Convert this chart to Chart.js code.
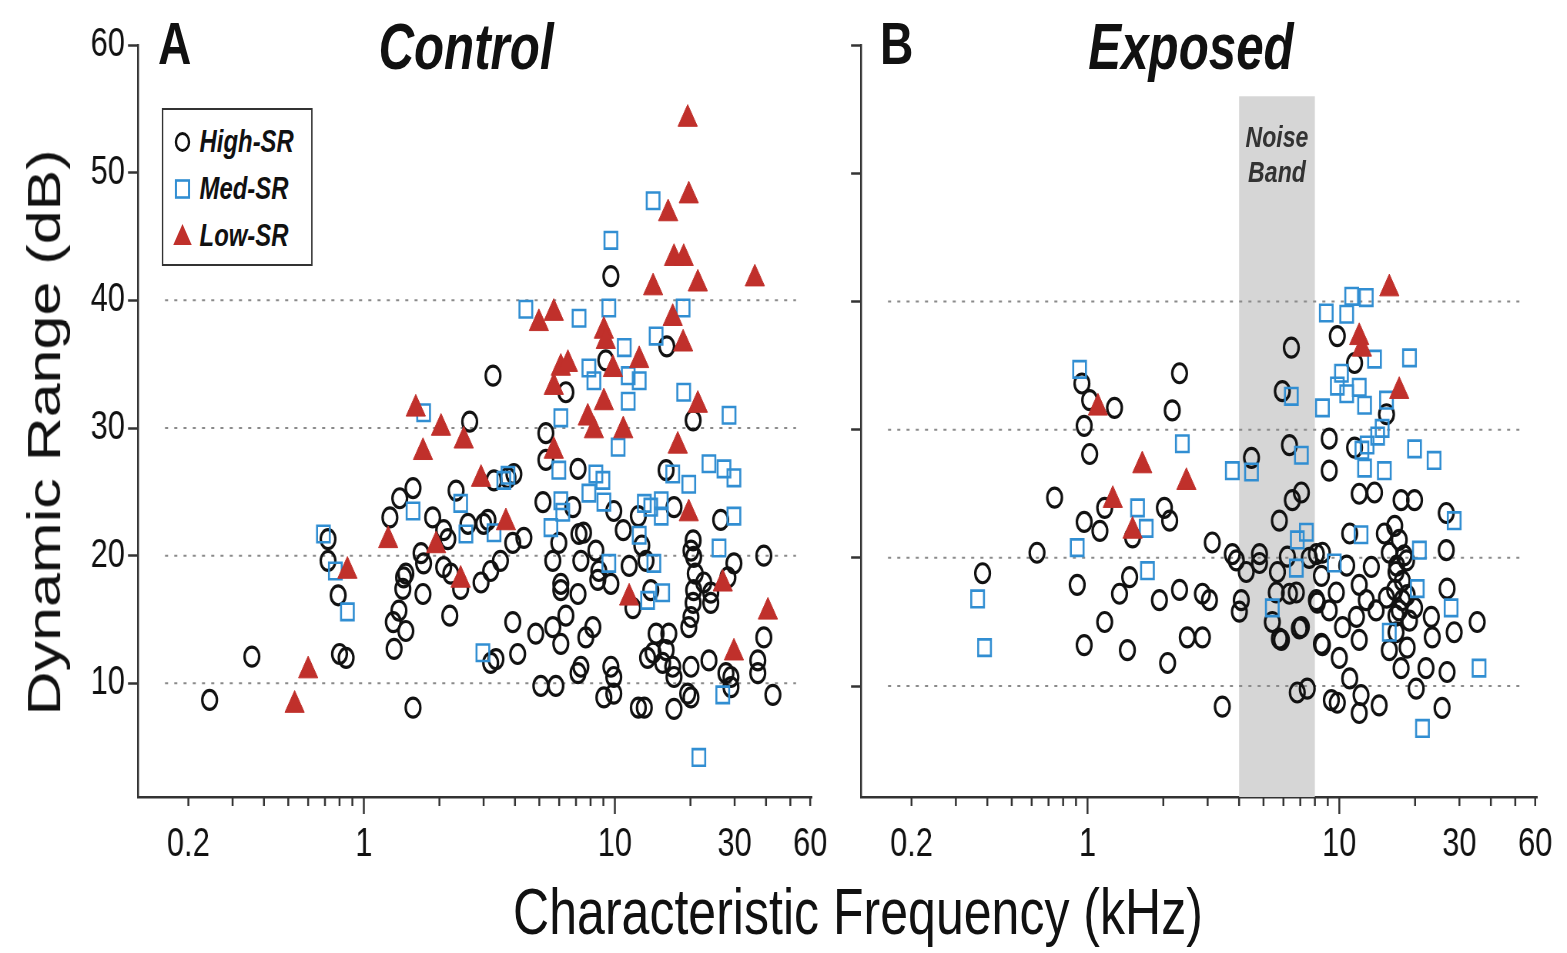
<!DOCTYPE html>
<html>
<head>
<meta charset="utf-8">
<script src="https://cdn.jsdelivr.net/npm/chart.js@4.4.1/dist/chart.umd.min.js"></script>
<style>
    html, body { margin: 0; padding: 0; background: #fff; overflow: hidden; }
    #stage { position: absolute; left: 0; top: 0; height: 953px; transform: scaleX(0.77); transform-origin: 0 0; }
    #stage canvas { position: absolute; top: 0; }
    .txt { position: absolute; white-space: nowrap; font-family: "Liberation Sans", Arial, sans-serif; color: #111; line-height: 1; }
    .bi { font-weight: bold; font-style: italic; }
    .legend { position: absolute; box-sizing: border-box; border: 2.5px solid #333; background: #fff; }
</style>
</head>
<body>
<div id="stage">
    <canvas id="chartA"></canvas>
    <canvas id="chartB"></canvas>
    <div class="txt" id="letterA" style="font-size:60px;font-weight:bold;top:14px;">A</div>
    <div class="txt bi" id="titleA" style="font-size:64px;top:15px;width:600px;text-align:center;">Control</div>
    <div class="txt" id="letterB" style="font-size:60px;font-weight:bold;top:14px;">B</div>
    <div class="txt bi" id="titleB" style="font-size:64px;top:15px;width:600px;text-align:center;">Exposed</div>
    <div class="legend" id="legend"></div>
    <div class="txt bi" id="bandLabel" style="font-size:30px;line-height:35px;top:119px;width:200px;text-align:center;color:#333;">Noise<br>Band</div>
    <div class="txt" id="yTitle" style="font-size:61px;width:800px;text-align:center;transform:rotate(-90deg);">Dynamic Range (dB)</div>
    <div class="txt" id="xTitle" style="font-size:65px;top:879px;width:1400px;text-align:center;">Characteristic Frequency (kHz)</div>
</div>
<script>
// the reference figure is squeezed horizontally; lay out in unsqueezed units
const S = 0.77;
const u = px => px / S;

// ---- data: [characteristic frequency (kHz), dynamic range (dB)] ----
const controlHighSR = [
    [0.243, 8.7], [0.358, 12.1], [0.72, 21.3], [0.72, 19.6], [0.79, 16.9], [0.80, 12.3], [0.85, 12.0],
    [2.64, 30.5], [1.57, 25.3], [1.39, 24.5], [1.27, 23.0], [2.33, 25.1], [1.88, 23.0], [2.08, 22.0],
    [2.16, 21.3], [1.69, 20.2], [1.73, 19.4], [2.08, 19.1], [2.22, 18.6], [2.43, 17.4], [2.93, 17.9],
    [3.0, 22.5], [1.47, 18.6], [1.43, 17.4], [1.72, 17.0], [1.38, 15.7], [1.31, 14.8], [1.47, 14.1],
    [1.32, 12.7], [2.2, 15.3], [1.57, 8.1], [3.2, 11.6], [3.27, 34.1], [3.75, 26.1], [3.96, 26.4],
    [2.6, 22.5], [3.12, 22.8], [3.92, 21.0], [3.5, 19.6], [3.2, 18.8], [3.92, 14.8], [3.36, 11.9],
    [4.1, 12.3], [1.44, 18.3], [3.3, 25.9], [4.34, 21.4], [5.17, 24.2], [5.31, 27.5], [7.13, 26.8],
    [6.8, 23.8], [9.9, 23.5], [12.4, 23.1], [10.8, 22.0], [7.19, 21.7], [7.5, 21.8], [5.98, 21.0],
    [5.66, 19.6], [7.32, 19.6], [8.4, 20.4], [8.63, 18.8], [9.64, 17.8], [8.55, 18.1], [6.09, 17.8],
    [6.09, 17.3], [7.13, 17.0], [11.8, 15.9], [4.84, 13.9], [5.66, 14.4], [6.38, 15.3], [6.09, 13.1],
    [8.17, 14.4], [7.66, 13.6], [7.32, 11.3], [7.13, 10.8], [9.64, 11.3], [9.9, 10.5], [5.07, 9.8],
    [5.82, 9.8], [9.04, 8.9], [9.9, 9.2], [12.4, 8.1], [13.5, 12.0], [9.64, 41.9], [9.2, 35.3],
    [6.38, 32.8], [5.31, 29.6], [16.1, 36.4], [20.5, 30.6], [16.0, 26.7], [17.2, 23.8], [26.4, 22.8],
    [20.5, 21.2], [20.1, 20.4], [29.8, 19.4], [39.2, 20.0], [39.2, 13.6], [37.1, 11.8], [37.1, 10.8],
    [42.6, 9.1], [29.0, 10.5], [20.1, 8.9], [17.2, 8.0], [20.6, 19.9], [20.9, 18.6], [20.6, 17.3],
    [20.5, 16.3], [20.1, 15.2], [19.7, 14.4], [24.1, 16.3], [24.1, 17.1], [28.2, 18.3], [22.6, 17.9],
    [14.6, 13.9], [16.4, 13.9], [14.2, 12.4], [16.0, 12.6], [15.5, 11.6], [17.0, 11.3], [17.2, 10.5],
    [20.1, 11.3], [23.7, 11.8], [13.1, 8.1], [19.5, 9.2], [27.7, 10.8], [29.0, 9.7], [12.8, 20.8],
    [13.3, 19.6], [11.4, 19.2], [13.9, 17.3]
];
const controlMedSR = [
    [0.69, 21.7], [0.77, 18.8], [0.86, 15.6], [1.73, 31.2], [1.57, 23.5], [2.43, 24.1], [2.55, 21.7],
    [2.98, 12.4], [3.61, 25.9], [3.3, 21.8], [3.75, 26.3], [4.42, 39.3], [7.2, 38.6], [9.46, 39.4],
    [9.64, 44.7], [10.9, 36.3], [7.88, 34.7], [8.25, 33.7], [11.3, 34.1], [12.5, 33.7], [11.3, 32.1],
    [6.09, 30.8], [10.3, 28.5], [5.98, 26.7], [8.4, 26.4], [8.96, 25.9], [7.88, 24.9], [9.04, 24.2],
    [6.09, 24.3], [6.2, 23.4], [5.56, 22.2], [13.1, 24.1], [12.5, 21.6], [9.46, 19.4], [13.5, 16.5],
    [14.2, 47.8], [18.7, 39.4], [14.6, 37.2], [18.8, 32.8], [28.5, 31.0], [17.0, 26.4], [19.7, 25.6],
    [23.7, 27.2], [27.2, 26.8], [29.8, 26.1], [29.8, 23.1], [13.9, 23.8], [15.3, 24.3], [15.3, 23.1],
    [26.0, 20.6], [14.3, 19.4], [15.5, 17.1], [26.9, 9.1], [21.6, 4.2]
];
const controlLowSR = [
    [0.53, 8.3], [0.60, 11.0], [0.86, 18.8], [1.61, 31.5], [2.03, 30.0], [2.5, 29.0], [1.72, 28.1],
    [2.93, 26.0], [1.25, 21.2], [1.94, 20.8], [2.43, 18.1], [3.68, 22.6], [4.98, 38.2], [5.71, 39.0],
    [9.04, 37.6], [9.2, 36.8], [12.5, 35.3], [9.82, 34.6], [6.09, 34.7], [6.5, 35.0], [5.71, 33.2],
    [9.04, 32.0], [7.8, 30.8], [8.25, 29.8], [10.8, 29.8], [5.71, 28.2], [11.4, 16.7], [19.5, 54.2],
    [19.7, 48.2], [16.3, 46.8], [17.2, 43.3], [18.8, 43.3], [14.2, 41.0], [21.4, 41.3], [36.1, 41.7],
    [17.0, 38.6], [18.7, 36.6], [21.4, 31.8], [17.8, 28.6], [19.7, 23.3], [26.9, 17.8], [40.7, 15.6],
    [29.8, 12.4]
];
const exposedHighSR = [
    [0.383, 18.8], [0.95, 33.6], [1.02, 32.3], [1.28, 31.7], [0.97, 30.3], [1.02, 28.1], [2.32, 34.4],
    [2.17, 31.5], [0.74, 24.7], [1.17, 23.9], [2.02, 23.9], [2.12, 22.9], [0.97, 22.8], [1.12, 22.1],
    [1.51, 21.6], [3.13, 21.2], [0.63, 20.4], [3.76, 20.3], [3.9, 19.8], [0.91, 17.9], [1.47, 18.5],
    [1.34, 17.2], [1.93, 16.7], [2.32, 17.5], [2.86, 17.2], [3.05, 16.7], [4.01, 15.8], [1.17, 15.0],
    [0.97, 13.2], [1.44, 12.8], [2.49, 13.8], [2.86, 13.8], [2.08, 11.8], [3.43, 8.4], [6.45, 36.4],
    [5.94, 33.0], [6.34, 28.8], [4.48, 27.8], [6.51, 24.5], [7.07, 25.1], [5.78, 22.9], [4.82, 20.3],
    [4.27, 18.9], [5.68, 18.9], [6.22, 20.1], [7.6, 20.0], [8.57, 20.4], [4.08, 16.7], [6.75, 17.3],
    [8.11, 16.7], [5.62, 17.3], [5.78, 13.7], [6.94, 14.5], [8.49, 13.3], [6.81, 9.5], [7.46, 9.8],
    [9.3, 8.9], [9.82, 37.3], [11.5, 35.2], [15.4, 31.2], [9.12, 29.3], [11.5, 28.6], [9.12, 26.8],
    [12.0, 25.0], [13.8, 25.1], [17.6, 24.5], [19.9, 24.5], [26.6, 23.5], [11.0, 21.9], [4.82, 19.6],
    [8.11, 20.3], [8.49, 18.6], [10.7, 19.4], [12.0, 17.9], [13.4, 19.3], [15.1, 21.9], [15.8, 20.4],
    [16.8, 18.9], [18.5, 19.8], [17.8, 16.7], [15.4, 16.9], [19.9, 16.1], [23.2, 15.4], [26.8, 17.6],
    [26.6, 20.6], [35.3, 15.0], [28.6, 14.2], [23.4, 13.8], [18.6, 13.0], [15.8, 12.8], [12.0, 13.6],
    [10.3, 14.6], [8.57, 13.2], [10.0, 12.2], [11.0, 10.6], [17.6, 11.4], [22.1, 11.4], [26.8, 11.1],
    [20.2, 9.8], [12.2, 9.3], [14.4, 8.5], [9.82, 8.7], [12.0, 7.9], [25.6, 8.3], [7.07, 14.6],
    [5.89, 13.6], [5.42, 15.0], [6.34, 17.2], [8.18, 16.5], [9.73, 17.3], [9.12, 15.9], [11.7, 15.4],
    [14.0, 15.9], [16.8, 15.5], [12.8, 16.7], [16.6, 22.5], [17.3, 21.4], [18.1, 20.2], [16.9, 19.4],
    [17.8, 18.2], [16.6, 17.5], [18.6, 17.1], [17.3, 15.9], [19.0, 15.1], [16.8, 14.2]
];
const exposedMedSR = [
    [0.93, 34.7], [2.38, 28.9], [3.76, 26.8], [1.58, 23.9], [1.71, 22.3], [0.91, 20.8], [0.366, 16.8],
    [1.73, 19.0], [0.39, 13.0], [6.45, 32.6], [8.57, 31.7], [7.07, 28.0], [4.48, 26.7], [6.81, 21.4],
    [7.4, 22.0], [6.75, 19.2], [9.55, 19.6], [5.42, 16.1], [11.2, 40.4], [12.8, 40.3], [8.88, 39.1],
    [10.7, 39.0], [13.8, 35.5], [19.0, 35.6], [10.2, 34.4], [9.82, 33.4], [10.7, 32.8], [12.0, 33.3],
    [12.6, 31.9], [15.4, 32.3], [12.3, 28.4], [12.9, 28.8], [14.2, 29.5], [14.8, 30.1], [19.9, 28.5],
    [23.8, 27.6], [12.6, 27.0], [15.1, 26.8], [28.6, 22.9], [12.2, 21.8], [20.8, 20.6], [20.4, 17.6],
    [27.8, 16.1], [15.8, 14.2], [35.9, 11.4], [21.4, 6.7]
];
const exposedLowSR = [
    [1.1, 31.7], [1.65, 27.2], [2.47, 25.9], [1.26, 24.5], [1.51, 22.1], [15.8, 41.0], [12.0, 37.2],
    [12.3, 36.3], [17.3, 33.0]
];

const xTickLabels = [0.2, 1, 10, 30, 60];
const xTickMarks = [0.2, 0.3, 0.4, 0.5, 0.6, 0.7, 0.8, 0.9, 1, 2, 3, 4, 5, 6, 7, 8, 9, 10, 20, 30, 40, 50, 60];
const xLongTicks = [1, 10];
const yTicks = [10, 20, 30, 40, 50, 60];
const refLines = [10, 20, 30, 40];
const noiseBand = [4, 8];      // kHz
const noiseBandTop = 56;       // dB

const FONT = "'Liberation Sans', Arial, sans-serif";
const RED = "#c0302b";
const BLUE = "#318ed2";
const INK = "#333";

const toPts = arr => arr.map(p => ({ x: p[0], y: p[1] }));

const panelDecor = {
    id: "panelDecor",
    beforeDatasetsDraw(chart, args, opts) {
        const { ctx, chartArea: a, scales: { x, y } } = chart;
        ctx.save();
        if (opts.band) {
            const x0 = x.getPixelForValue(noiseBand[0]);
            const x1 = x.getPixelForValue(noiseBand[1]);
            const y0 = y.getPixelForValue(noiseBandTop);
            ctx.fillStyle = "#d6d6d6";
            ctx.fillRect(x0, y0, x1 - x0, a.bottom - y0);
        }
        ctx.strokeStyle = "#8a8a8a";
        ctx.lineWidth = 2;
        ctx.setLineDash([4, 8]);
        refLines.forEach(v => {
            const py = y.getPixelForValue(v);
            ctx.beginPath();
            ctx.moveTo(a.left + opts.inset[0], py);
            ctx.lineTo(a.right - opts.inset[1], py);
            ctx.stroke();
        });
        ctx.restore();
    },
    afterDraw(chart) {
        const { ctx, scales: { x } } = chart;
        ctx.save();
        ctx.strokeStyle = INK;
        ctx.lineWidth = 2.5;
        xTickMarks.forEach(v => {
            const px = x.getPixelForValue(v);
            const len = xLongTicks.includes(v) ? 17 : 9;
            ctx.beginPath();
            ctx.moveTo(px, x.top);
            ctx.lineTo(px, x.top + len);
            ctx.stroke();
        });
        ctx.restore();
    }
};

function makeDatasets(high, med, low) {
    return [
        { label: "Low-SR", data: toPts(low), pointStyle: "triangle", pointRadius: 14.5,
          backgroundColor: RED, borderColor: RED, borderWidth: 1 },
        { label: "Med-SR", data: toPts(med), pointStyle: "rect", pointRadius: 11.7,
          backgroundColor: "rgba(0,0,0,0)", borderColor: BLUE, borderWidth: 2.6 },
        { label: "High-SR", data: toPts(high), pointStyle: "circle", pointRadius: 9.5,
          backgroundColor: "rgba(0,0,0,0)", borderColor: "#111", borderWidth: 3.2 }
    ];
}

function makeChart(canvasId, opts) {
    const canvas = document.getElementById(canvasId);
    canvas.width = opts.width;
    canvas.height = 953;
    canvas.style.left = opts.left + "px";
    return new Chart(canvas.getContext("2d"), {
        type: "scatter",
        data: { datasets: makeDatasets(opts.high, opts.med, opts.low) },
        options: {
            responsive: false,
            animation: false,
            events: [],
            layout: { padding: { left: 0, right: opts.padRight, top: 45, bottom: 0 } },
            plugins: {
                legend: { display: false },
                tooltip: { enabled: false },
                panelDecor: { band: opts.band, inset: [u(27), u(16)] }
            },
            scales: {
                x: {
                    type: "logarithmic",
                    min: 0.126,
                    max: 61,
                    afterBuildTicks: s => { s.ticks = xTickLabels.map(v => ({ value: v })); },
                    afterFit: s => {
                        s.height = 953 - 797;
                        // keep the edge labels from shrinking the plot area
                        s.paddingLeft = 0;
                        s.paddingRight = 0;
                    },
                    grid: { display: false, drawTicks: false },
                    border: { display: true, width: 2.5, color: INK },
                    ticks: {
                        autoSkip: false, maxRotation: 0, padding: 24, color: "#111",
                        font: { family: FONT, size: 40 },
                        callback: v => String(v)
                    }
                },
                y: {
                    type: "linear",
                    min: opts.yMin,
                    max: 60,
                    afterBuildTicks: s => { s.ticks = yTicks.map(v => ({ value: v })); },
                    afterFit: s => { s.width = opts.yWidth; },
                    grid: { drawOnChartArea: false, drawTicks: true, tickLength: 13, tickWidth: 2.5, tickColor: INK },
                    border: { display: true, width: 2.5, color: INK },
                    ticks: {
                        display: opts.yLabels, padding: 4, color: "#111",
                        font: { family: FONT, size: 40 }
                    }
                }
            }
        },
        plugins: [panelDecor]
    });
}

const stageW = Math.round(u(1567));
document.getElementById("stage").style.width = stageW + "px";

const widthA = Math.round(u(836));
makeChart("chartA", {
    left: 0, width: widthA, padRight: widthA - u(812), yWidth: u(138), yMin: 1.1, yLabels: true,
    high: controlHighSR, med: controlMedSR, low: controlLowSR, band: false
});
makeChart("chartB", {
    left: widthA, width: stageW - widthA, padRight: stageW - u(1537), yWidth: u(861) - widthA, yMin: 1.35, yLabels: false,
    high: exposedHighSR, med: exposedMedSR, low: exposedLowSR, band: true
});

// text placement (reference pixel coordinates converted to unsqueezed units)
function place(id, left, top) {
    const el = document.getElementById(id);
    el.style.left = left + "px";
    if (top !== undefined) el.style.top = top + "px";
}
place("letterA", u(158));
place("titleA", u(466) - 300);
place("letterB", u(880));
place("titleB", u(1191) - 300);
place("bandLabel", u(1277) - 100);
place("yTitle", u(45) - 400, 432 - 30.5);
place("xTitle", u(858) - 700);

// legend box
const legend = document.getElementById("legend");
legend.style.left = u(162) + "px";
legend.style.top = "108px";
legend.style.width = u(151) + "px";
legend.style.height = "158px";
const legendItems = [
    { label: "High-SR", cy: 142, svg: '<circle cx="13" cy="13" r="8.5" fill="none" stroke="#111" stroke-width="3"/>' },
    { label: "Med-SR", cy: 189, svg: '<rect x="4.5" y="4.5" width="17" height="17" fill="none" stroke="' + BLUE + '" stroke-width="2.6"/>' },
    { label: "Low-SR", cy: 236, svg: '<polygon points="13,1 25,22 1,22" fill="' + RED + '"/>' }
];
legendItems.forEach(item => {
    const m = document.createElement("div");
    m.style.position = "absolute";
    m.style.left = (u(183) - u(162) - 13 - 2.5) + "px";
    m.style.top = (item.cy - 108 - 13 - 2.5) + "px";
    m.innerHTML = '<svg width="26" height="26" viewBox="0 0 26 26">' + item.svg + '</svg>';
    legend.appendChild(m);
    const t = document.createElement("div");
    t.className = "txt bi";
    t.style.fontSize = "31px";
    t.style.left = (u(200) - u(162) - 2.5) + "px";
    t.style.top = (item.cy + 11 - 26.2 - 108 - 2.5) + "px";
    t.textContent = item.label;
    legend.appendChild(t);
});
</script>
</body>
</html>
